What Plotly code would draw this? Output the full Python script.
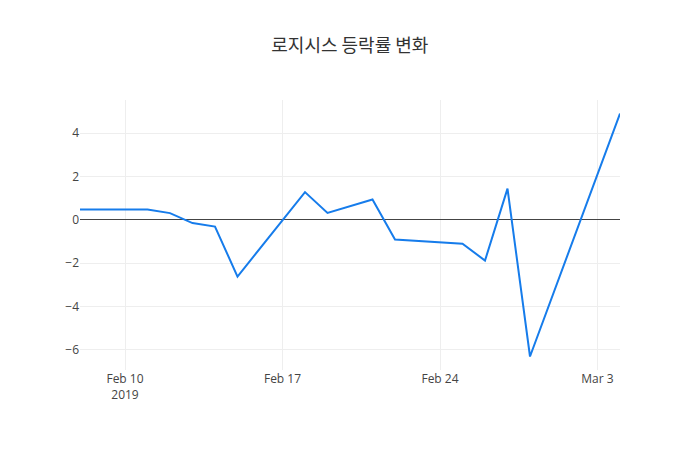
import plotly.graph_objects as go

# 로지시스 daily change (%), trading days only
dates = ['2019-02-08', '2019-02-11', '2019-02-12', '2019-02-13', '2019-02-14',
         '2019-02-15', '2019-02-18', '2019-02-19', '2019-02-21', '2019-02-22',
         '2019-02-25', '2019-02-26', '2019-02-27', '2019-02-28', '2019-03-04']
change = [0.48, 0.48, 0.31, -0.15, -0.31,
          -2.62, 1.28, 0.32, 0.94, -0.91,
          -1.10, -1.88, 1.44, -6.31, 4.91]

title = '로지시스 등락률 변화'

fig = go.Figure()
fig.add_trace(go.Scatter(x=dates, y=change, mode='lines',
                         line=dict(color='rgb(22,124,235)', width=2)))

# page body has an 8px margin, so shrink the figure and trim margins to match
fig.update_layout(
    title=dict(text=title, x=0.494, y=0.928,
               font=dict(family='Noto Sans CJK KR, sans-serif', size=18, color='#333')),
    width=692, height=442,
    margin=dict(l=72, r=80, t=92, b=80),
    paper_bgcolor='white', plot_bgcolor='white',
    font=dict(family='Open Sans, Noto Sans CJK KR, sans-serif', size=12, color='#444'),
    showlegend=False,
)
fig.update_xaxes(showgrid=True, gridcolor='#eee', zeroline=False,
                 showline=False, ticks='')
fig.update_yaxes(showgrid=True, gridcolor='#eee', zeroline=True,
                 zerolinecolor='#444', zerolinewidth=1, showline=False,
                 dtick=2)

fig.write_html("out.html")
